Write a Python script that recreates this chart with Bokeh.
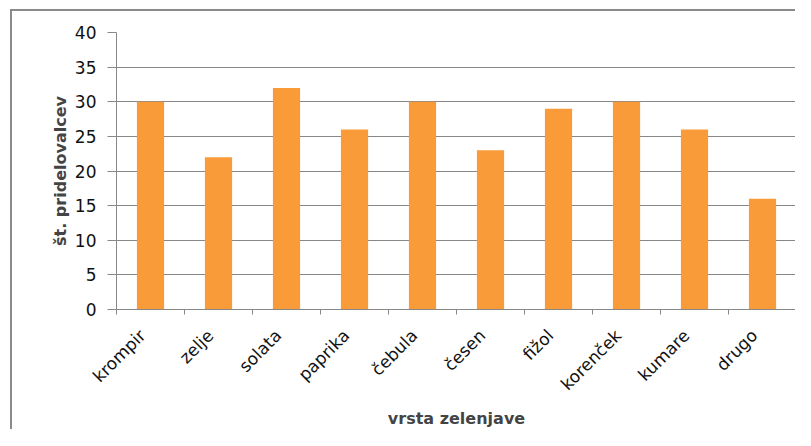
from bokeh.plotting import figure
from bokeh.models import Range1d, FixedTicker
from bokeh.embed import file_html
from bokeh.resources import INLINE
import math

categories = ["krompir", "zelje", "solata", "paprika", "čebula", "česen",
              "fižol", "korenček", "kumare", "drugo"]
values = [30, 22, 32, 26, 30, 23, 29, 30, 26, 16]
y_ticks = [0, 5, 10, 15, 20, 25, 30, 35, 40]

xs = [i + 0.5 for i in range(len(categories))]
label_shift = 0.12
label_pos = [x - label_shift for x in xs]

p = figure(width=785, height=420, output_backend="svg", toolbar_location=None,
           x_range=Range1d(0, len(categories)), y_range=Range1d(0, 40),
           min_border_left=104, min_border_right=1, min_border_top=21,
           min_border_bottom=121)
p.outline_line_color = None
p.styles = {"border-left": "2px solid #8a8a8a", "border-top": "2px solid #8a8a8a",
            "margin-left": "10px", "margin-top": "9px"}

p.vbar(x=xs, top=values, width=0.4, color="#F99B38", line_color=None)

FONT = "DejaVu Sans"
# x axis
xa = p.xaxis[0]
xa.ticker = FixedTicker(ticks=label_pos, minor_ticks=list(range(len(categories) + 1)))
xa.major_label_overrides = {x: c for x, c in zip(label_pos, categories)}
xa.major_tick_line_color = None
xa.minor_tick_out = 5
xa.minor_tick_in = 0
xa.minor_tick_line_color = "#888888"
xa.axis_line_color = "#888888"
xa.major_label_orientation = math.pi / 4
xa.major_label_text_font = FONT
xa.major_label_text_font_size = "17px"
xa.major_label_text_color = "#111111"
xa.major_label_standoff = 17
xa.axis_label = "vrsta zelenjave"
xa.axis_label_text_font = FONT
xa.axis_label_text_font_style = "bold"
xa.axis_label_text_font_size = "16px"
xa.axis_label_standoff = 5

# y axis
ya = p.yaxis[0]
ya.ticker = FixedTicker(ticks=y_ticks)
ya.major_tick_out = 9
ya.major_tick_in = 0
ya.major_tick_line_color = "#888888"
ya.minor_tick_line_color = None
ya.axis_line_color = "#888888"
ya.major_label_text_font = FONT
ya.major_label_text_font_size = "17px"
ya.major_label_text_color = "#111111"
ya.major_label_standoff = 11
ya.axis_label = "št. pridelovalcev"
ya.axis_label_text_font = FONT
ya.axis_label_text_font_style = "bold"
ya.axis_label_text_font_size = "16px"
ya.axis_label_standoff = 2

p.xgrid.grid_line_color = None
p.ygrid.grid_line_color = "#888888"
p.ygrid.ticker = FixedTicker(ticks=y_ticks)

open("out.html", "w").write(file_html(p, INLINE))
